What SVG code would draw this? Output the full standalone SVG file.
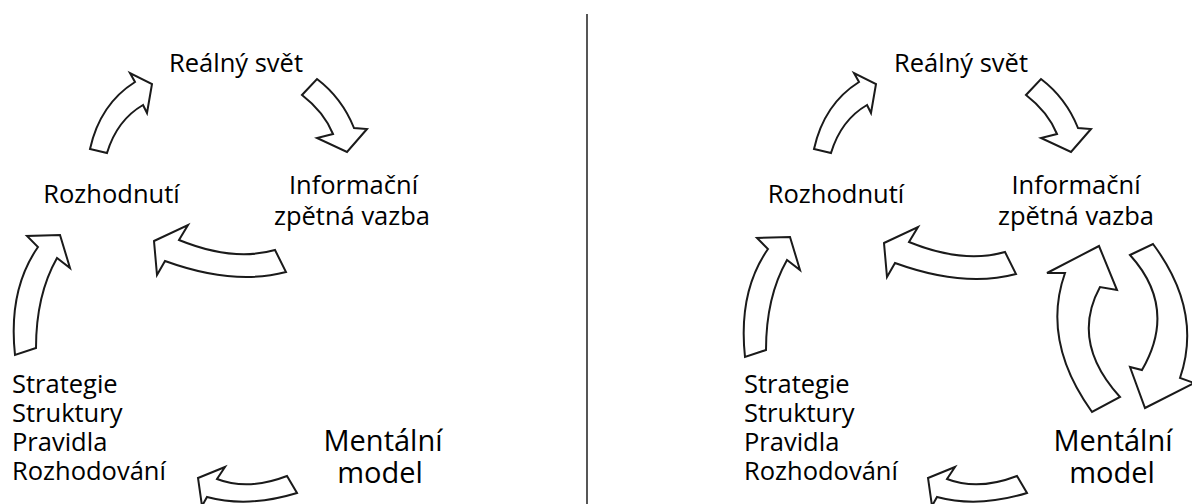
<svg xmlns="http://www.w3.org/2000/svg" width="1192" height="504" viewBox="0 0 1192 504">
<style>
text{font-family:"Open Sans","Liberation Sans",sans-serif;fill:#000;font-size:25.5px}
.big{font-size:29px}
.arr{fill:#fff;stroke:#1a1a1a;stroke-width:2;stroke-linejoin:miter}
</style>
<rect width="1192" height="504" fill="#fff"/>
<line x1="587" y1="14" x2="587" y2="504" stroke="#444" stroke-width="1.8"/>
<g id="left-real"><text x="236" y="72" text-anchor="middle">Reálný svět</text></g>
<g id="left-rozhodnuti"><text x="111.5" y="203" text-anchor="middle">Rozhodnutí</text></g>
<g id="left-info"><text x="353.5" y="194" text-anchor="middle">Informační</text><text x="352" y="225" text-anchor="middle">zpětná vazba</text></g>
<g id="left-strategie"><text x="12" y="393">Strategie</text><text x="12" y="422">Struktury</text><text x="12" y="451">Pravidla</text><text x="12" y="480">Rozhodování</text></g>
<g id="left-mental"><text class="big" x="383" y="451" text-anchor="middle">Mentální</text><text class="big" x="380" y="483" text-anchor="middle">model</text></g>
<g id="right-real"><text x="961" y="72" text-anchor="middle">Reálný svět</text></g>
<g id="right-rozhodnuti"><text x="836" y="203" text-anchor="middle">Rozhodnutí</text></g>
<g id="right-info"><text x="1076" y="194" text-anchor="middle">Informační</text><text x="1076" y="225" text-anchor="middle">zpětná vazba</text></g>
<g id="right-strategie"><text x="744" y="393">Strategie</text><text x="744" y="422">Struktury</text><text x="744" y="451">Pravidla</text><text x="744" y="480">Rozhodování</text></g>
<g id="right-mental"><text class="big" x="1113" y="451" text-anchor="middle">Mentální</text><text class="big" x="1112" y="483" text-anchor="middle">model</text></g>
<g id="connectors">
<path id="lA1" class="arr" d="M90,149 Q100,104 135,82 L130,73 L152,84 L147,113 L143,105 Q117,120 107,153 Z"/>
<path id="lA2" class="arr" d="M317,79 Q342,98 354,128 L367,129 L347,152 L317,138 L333,134 Q324,112 302,95 Z"/>
<path id="lA3" class="arr" d="M154,241 L188,225 L179,240 Q233,262 275,250 L286,272 Q234,286 165,261 L157,275 Z"/>
<path id="lA4" class="arr" d="M15,355 Q8,290 38,247 L27,236 L60,235 L70,268 L57,258 Q36,295 36,348 Z"/>
<path id="lA5" class="arr" d="M198,478 L225,467 L217,479 Q248,491 287,476 L297,493 Q248,508 207,497 L202,506 Z"/>
<g transform="translate(724,0)">
<path class="arr" d="M90,149 Q100,104 135,82 L130,73 L152,84 L147,113 L143,105 Q117,120 107,153 Z"/>
<path class="arr" d="M317,79 Q342,98 354,128 L367,129 L347,152 L317,138 L333,134 Q324,112 302,95 Z"/>
</g>
<path class="arr" transform="translate(730,2)" d="M154,241 L188,225 L179,240 Q233,262 275,250 L286,272 Q234,286 165,261 L157,275 Z"/>
<path class="arr" transform="translate(730,2)" d="M15,355 Q8,290 38,247 L27,236 L60,235 L70,268 L57,258 Q36,295 36,348 Z"/>
<path class="arr" transform="translate(730,0)" d="M198,478 L225,467 L217,479 Q248,491 287,476 L297,493 Q248,508 207,497 L202,506 Z"/>
<path id="rUp" class="arr" d="M1047,273 L1099,246 L1117,290 L1100,287 Q1070,342 1120,397 L1092,412 Q1041,341 1065,273 Z"/>
<path id="rDown" class="arr" d="M1130,255 L1153,244 Q1203,311 1180,378 L1194,383 L1145,408 L1130,367 L1142,370 Q1178,308 1130,255 Z"/>
</g>
</svg>
